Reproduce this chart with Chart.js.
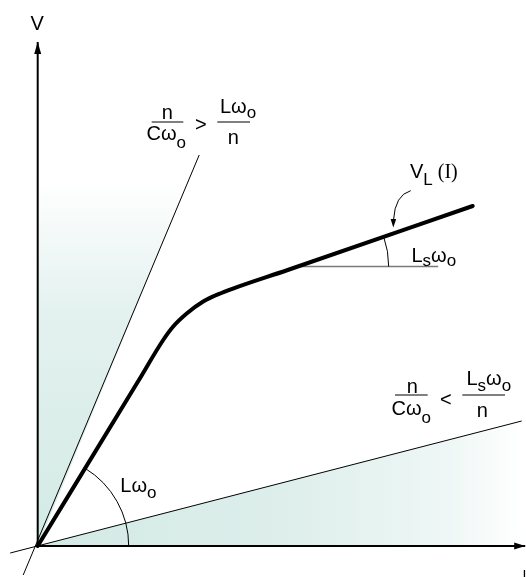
<!DOCTYPE html>
<html>
<head>
<meta charset="utf-8">
<script src="https://cdn.jsdelivr.net/npm/chart.js@4.4.0/dist/chart.umd.min.js"></script>
<style>
html, body { margin: 0; padding: 0; background: #fff; }
canvas { display: block; }
</style>
</head>
<body>
<canvas id="c" width="526" height="577"></canvas>
<script>
// V(I) characteristic, arbitrary units (origin at the axes crossing)
var curveI = [0, 20, 25.1, 27.1, 29.8, 33.1, 36.5, 50, 87.0];
var curveV = [0, 32.8, 41.2, 43.9, 46.5, 48.9, 50.5, 55.2, 68.0];
// limit lines n/Cw0 > Lw0/n (steep) and n/Cw0 < Lsw0/n (shallow)
var steepI = [-2.9, 32.3];
var steepV = [-5.8, 78.2];
var shallowI = [-5.5, 96.8];
var shallowV = [-1.4, 25.0];
// horizontal reference for the Ls*w0 slope angle
var slopeRefI = [52.0, 80.1];
var slopeRefV = [55.9, 55.9];
// shaded wedges
var shadeUpI = [0, 32.3, 0];
var shadeUpV = [0, 78.2, 78.2];
var shadeRightI = [0, 96.8, 96.8];
var shadeRightV = [0, 25.0, 0];
// axes extents
var axisI = [0, 97.5];
var axisV = [0, 100.8];

function pts(xs, ys) {
  return xs.map(function (x, i) { return { x: x, y: ys[i] }; });
}

var FONT = "'Liberation Sans', Arial, sans-serif";

function teal(c, vertical) {
  var ch = c.chart;
  if (!ch.chartArea) return 'rgba(0,0,0,0)';
  var sx = ch.scales.x, sy = ch.scales.y, g;
  if (vertical) {
    g = ch.ctx.createLinearGradient(0, sy.getPixelForValue(0), 0, sy.getPixelForValue(73.2));
    g.addColorStop(0, 'rgb(211,234,229)');
    g.addColorStop(0.65, 'rgb(228,242,239)');
    g.addColorStop(1, 'rgb(255,255,255)');
  } else {
    g = ch.ctx.createLinearGradient(sx.getPixelForValue(0), 0, sx.getPixelForValue(96.8), 0);
    g.addColorStop(0, 'rgb(211,234,229)');
    g.addColorStop(0.5, 'rgb(221,238,235)');
    g.addColorStop(0.85, 'rgb(238,247,245)');
    g.addColorStop(1, 'rgb(255,255,255)');
  }
  return g;
}

function run(ctx, x, y, parts) {
  parts.forEach(function (p) {
    ctx.font = (p[1] ? '17px ' : '20px ') + (p[3] || FONT);
    ctx.fillText(p[0], x, y + (p[2] || 0));
    x += ctx.measureText(p[0]).width;
  });
}

function hline(ctx, x0, x1, y) {
  ctx.beginPath();
  ctx.moveTo(x0, y);
  ctx.lineTo(x1, y);
  ctx.stroke();
}

var annotations = {
  id: 'annotations',
  afterDatasetsDraw: function (chart) {
    var ctx = chart.ctx;
    var sx = chart.scales.x, sy = chart.scales.y;
    var px = function (v) { return sx.getPixelForValue(v); };
    var py = function (v) { return sy.getPixelForValue(v); };
    ctx.save();
    ctx.fillStyle = '#000';
    ctx.strokeStyle = '#000';

    // arrow heads on the axes
    var ox = px(0), oy = py(0);
    var ty = py(axisV[1]);
    ctx.beginPath();
    ctx.moveTo(ox, ty);
    ctx.lineTo(ox - 3.5, ty + 12);
    ctx.lineTo(ox + 3.5, ty + 12);
    ctx.closePath();
    ctx.fill();
    var tx = px(axisI[1]);
    ctx.beginPath();
    ctx.moveTo(tx, oy);
    ctx.lineTo(tx - 11, oy - 3.5);
    ctx.lineTo(tx - 11, oy + 3.5);
    ctx.closePath();
    ctx.fill();

    // angle arcs
    ctx.lineWidth = 1;
    var a1 = Math.atan2(oy - py(curveV[1]), px(curveI[1]) - ox);
    ctx.beginPath();
    ctx.arc(ox, oy, 91, -a1, 0);
    ctx.stroke();
    var n = curveI.length;
    var a2 = Math.atan2(py(curveV[n - 2]) - py(curveV[n - 1]), px(curveI[n - 1]) - px(curveI[n - 2]));
    var cx = px(slopeRefI[0]), cy = py(slopeRefV[0]);
    ctx.beginPath();
    ctx.arc(cx, cy, 91, -a2, 0);
    ctx.stroke();

    // pointer to the curve
    ctx.beginPath();
    ctx.moveTo(410.7, 190.7);
    ctx.quadraticCurveTo(395, 195, 393.5, 220);
    ctx.stroke();
    ctx.beginPath();
    ctx.moveTo(393.3, 227.5);
    ctx.lineTo(390.6, 219);
    ctx.lineTo(396.2, 219);
    ctx.closePath();
    ctx.fill();

    ctx.textBaseline = 'alphabetic';
    ctx.textAlign = 'left';

    // axis labels
    run(ctx, 30.5, 29.5, [['V']]);
    ctx.font = '14px ' + FONT;
    ctx.fillText('I', 522.5, 580);

    // n/Cw0 > Lw0/n
    ctx.lineWidth = 1;
    hline(ctx, 151.7, 183.3, 122);
    hline(ctx, 217.3, 250, 122);
    run(ctx, 161.7, 119, [['n']]);
    run(ctx, 146.5, 140, [['C'], ['\u03c9'], ['o', 1, 8]]);
    run(ctx, 195, 130.5, [['>']]);
    run(ctx, 220, 113.3, [['L'], ['\u03c9'], ['o', 1, 5]]);
    run(ctx, 227.7, 144.3, [['n']]);

    // n/Cw0 < Lsw0/n
    hline(ctx, 395, 427.7, 395);
    hline(ctx, 462.3, 505, 395);
    run(ctx, 406.7, 393, [['n']]);
    run(ctx, 391.5, 414.7, [['C'], ['\u03c9'], ['o', 1, 8]]);
    run(ctx, 440, 405.5, [['<']]);
    run(ctx, 466.5, 384.7, [['L'], ['s', 1, 6], ['\u03c9'], ['o', 1, 6]]);
    run(ctx, 476.7, 417.3, [['n']]);

    // curve and angle labels
    run(ctx, 410, 178.3, [['V'], ['L', 1, 7], [' (I)', 0, 0, "'Liberation Serif', serif"]]);
    run(ctx, 411.5, 261.7, [['L'], ['s', 1, 4], ['\u03c9'], ['o', 1, 4]]);
    run(ctx, 120.3, 491.7, [['L'], ['\u03c9'], ['o', 1, 6]]);

    ctx.restore();
  }
};

var thin = { showLine: true, pointRadius: 0, borderColor: '#000', borderWidth: 1, fill: false, order: 1 };

new Chart(document.getElementById('c'), {
  type: 'scatter',
  data: {
    datasets: [
      { data: pts(shadeUpI, shadeUpV), showLine: true, pointRadius: 0, borderWidth: 0,
        borderColor: 'rgba(0,0,0,0)', fill: 'shape', order: 10,
        backgroundColor: function (c) { return teal(c, true); } },
      { data: pts(shadeRightI, shadeRightV), showLine: true, pointRadius: 0, borderWidth: 0,
        borderColor: 'rgba(0,0,0,0)', fill: 'shape', order: 10,
        backgroundColor: function (c) { return teal(c, false); } },
      Object.assign({ data: pts(steepI, steepV) }, thin),
      Object.assign({ data: pts(shallowI, shallowV) }, thin),
      Object.assign({ data: pts(slopeRefI, slopeRefV) }, thin, { borderColor: '#7a7a7a', borderWidth: 1.5 }),
      Object.assign({ data: pts(axisI, [0, 0]) }, thin, { borderWidth: 2 }),
      Object.assign({ data: pts([0, 0], axisV) }, thin, { borderWidth: 2 }),
      { data: pts(curveI, curveV), showLine: true, pointRadius: 0, borderColor: '#000',
        borderWidth: 4, cubicInterpolationMode: 'monotone', borderCapStyle: 'round',
        borderJoinStyle: 'round', fill: false, order: 0 }
    ]
  },
  options: {
    responsive: false,
    animation: false,
    layout: { padding: 0 },
    plugins: { legend: { display: false }, tooltip: { enabled: false } },
    scales: {
      x: { type: 'linear', display: false, min: -7.54, max: 97.66 },
      y: { type: 'linear', display: false, min: -6.2, max: 109.2 }
    }
  },
  plugins: [annotations]
});
</script>
</body>
</html>
